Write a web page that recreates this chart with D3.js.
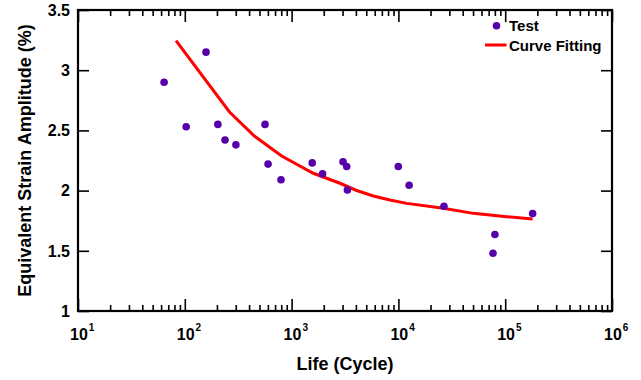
<!DOCTYPE html>
<html>
<head>
<meta charset="utf-8">
<script src="https://cdn.jsdelivr.net/npm/d3@7"></script>
<style>
  body { margin: 0; background: #fff; }
  svg { display: block; font-family: "Liberation Sans", Arial, sans-serif; font-weight: bold; }
</style>
</head>
<body>
<div id="chart"></div>
<script>
// test results: life (cycles) and equivalent strain amplitude (%)
const testLife = [64, 103, 158, 204, 238, 301, 564, 602, 796, 1560, 1950, 3030, 3280, 3330, 9980, 12600, 26700, 80100, 76900, 180700]
const testStrain = [2.90, 2.53, 3.15, 2.55, 2.42, 2.38, 2.55, 2.22, 2.09, 2.23, 2.14, 2.24, 2.20, 2.005, 2.20, 2.045, 1.87, 1.635, 1.48, 1.81]

// fitted curve
const fitLife = [82.7, 261, 448, 807, 1596, 2838, 4010, 5823, 8340, 11970, 26360, 50250, 103300, 180700]
const fitStrain = [3.245, 2.655, 2.453, 2.287, 2.144, 2.061, 2.003, 1.955, 1.922, 1.894, 1.853, 1.811, 1.783, 1.764]

const xDecades = [10, 100, 1000, 10000, 100000, 1000000]
const yTicks = [1, 1.5, 2, 2.5, 3, 3.5]

const width = 641
const height = 380
const margin = { top: 10, right: 29, bottom: 69, left: 78 }

const x = d3.scaleLog()
  .domain([10, 1e6])
  .range([margin.left, width - margin.right])

const y = d3.scaleLinear()
  .domain([1, 3.5])
  .range([height - margin.bottom, margin.top])

const svg = d3.select("#chart")
  .append("svg")
  .attr("width", width)
  .attr("height", height)

const minorX = x.ticks().filter((d) => !xDecades.includes(d))
const x0 = margin.left, x1 = width - margin.right
const y0 = height - margin.bottom, y1 = margin.top

function styleAxis(g) {
  g.select(".domain").remove()
  g.selectAll("line").attr("stroke", "#000").attr("stroke-width", 1.6)
  g.selectAll("text").remove()
}

// bottom ticks (inward)
svg.append("g").attr("transform", `translate(0,${y0})`)
  .call(d3.axisBottom(x).tickValues(xDecades).tickSize(-12)).call(styleAxis)
svg.append("g").attr("transform", `translate(0,${y0})`)
  .call(d3.axisBottom(x).tickValues(minorX).tickSize(-6)).call(styleAxis)
// top ticks
svg.append("g").attr("transform", `translate(0,${y1})`)
  .call(d3.axisTop(x).tickValues(xDecades).tickSize(-12)).call(styleAxis)
svg.append("g").attr("transform", `translate(0,${y1})`)
  .call(d3.axisTop(x).tickValues(minorX).tickSize(-6)).call(styleAxis)
// left & right ticks
svg.append("g").attr("transform", `translate(${x0},0)`)
  .call(d3.axisLeft(y).tickValues(yTicks).tickSize(-11)).call(styleAxis)
svg.append("g").attr("transform", `translate(${x1},0)`)
  .call(d3.axisRight(y).tickValues(yTicks).tickSize(-11)).call(styleAxis)

// frame
svg.append("rect")
  .attr("x", x0).attr("y", y1)
  .attr("width", x1 - x0).attr("height", y0 - y1)
  .attr("fill", "none").attr("stroke", "#000").attr("stroke-width", 2.2)

// y tick labels
svg.append("g").selectAll("text")
  .data(yTicks)
  .enter()
  .append("text")
  .attr("x", x0 - 8)
  .attr("y", (d) => y(d))
  .attr("dy", "0.36em")
  .attr("text-anchor", "end")
  .attr("font-size", "16px")
  .text((d) => d)

// x tick labels 10^n
const xl = svg.append("g").selectAll("text")
  .data(xDecades)
  .enter()
  .append("text")
  .attr("x", (d) => x(d) - 8)
  .attr("y", y0 + 29)
  .attr("font-size", "16px")
xl.append("tspan").text("10")
xl.append("tspan")
  .attr("dy", -9)
  .attr("dx", 1)
  .attr("font-size", "10px")
  .text((d) => Math.round(Math.log10(d)))

// axis titles
svg.append("text")
  .attr("x", (x0 + x1) / 2)
  .attr("y", 370)
  .attr("text-anchor", "middle")
  .attr("font-size", "18px")
  .text("Life (Cycle)")

svg.append("text")
  .attr("transform", `translate(31,${(y0 + y1) / 2}) rotate(-90)`)
  .attr("text-anchor", "middle")
  .attr("font-size", "18px")
  .text("Equivalent Strain Amplitude (%)")

// fitted curve
const fit = fitLife.map((d, i) => [d, fitStrain[i]])
svg.append("path")
  .datum(fit)
  .attr("fill", "none")
  .attr("stroke", "#ff0000")
  .attr("stroke-width", 3)
  .attr("d", d3.line().x((d) => x(d[0])).y((d) => y(d[1])))

// test points
svg.append("g").selectAll("circle")
  .data(testLife.map((d, i) => [d, testStrain[i]]))
  .enter()
  .append("circle")
  .attr("cx", (d) => x(d[0]))
  .attr("cy", (d) => y(d[1]))
  .attr("r", 3.8)
  .attr("fill", "#5500aa")

// legend
const legend = svg.append("g")
legend.append("circle")
  .attr("cx", 496.5).attr("cy", 25.7).attr("r", 3.8)
  .attr("fill", "#5500aa")
legend.append("text")
  .attr("x", 509).attr("y", 31)
  .attr("font-size", "15px")
  .text("Test")
legend.append("line")
  .attr("x1", 485).attr("x2", 506.5)
  .attr("y1", 45).attr("y2", 45)
  .attr("stroke", "#ff0000").attr("stroke-width", 3)
legend.append("text")
  .attr("x", 509).attr("y", 51)
  .attr("font-size", "15px")
  .text("Curve Fitting")
</script>
</body>
</html>
